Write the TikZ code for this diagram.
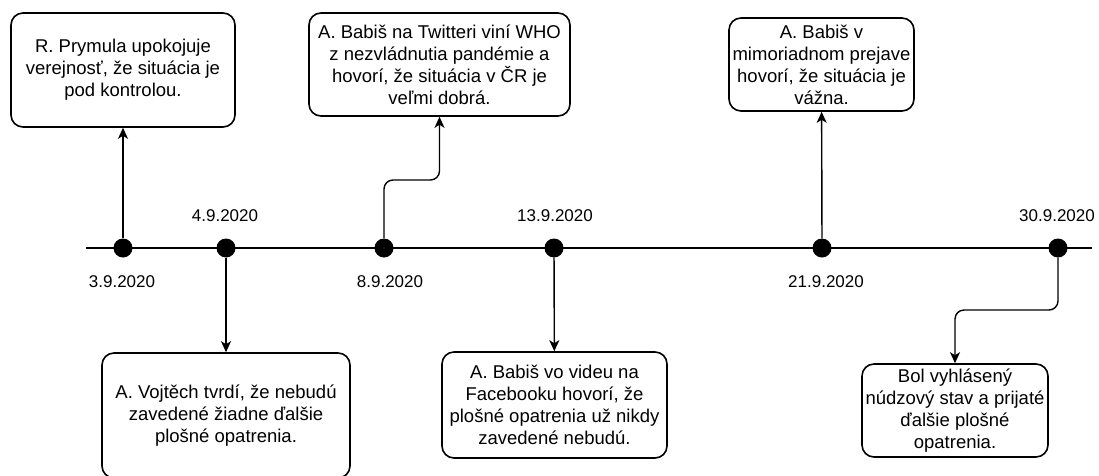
\documentclass[tikz,border=0pt]{standalone}
\usepackage{fontspec}
\setmainfont{Liberation Sans}
\usepackage{tikz}
\usetikzlibrary{arrows.meta, positioning}

\tikzset{
  event/.style={draw, line width=1.6pt, rounded corners=12pt, align=center,
    font=\fontsize{18.5}{22}\selectfont, inner sep=0pt},
  dot/.style={circle, fill=black, minimum size=19pt, inner sep=0pt},
  datum/.style={font=\fontsize{17}{20}\selectfont, inner sep=0pt},
  link/.style={line width=1.4pt, -{Stealth[length=11pt, width=10pt, inset=3pt]}},
}

\begin{document}
\begin{tikzpicture}[x=1pt, y=-1pt]
\useasboundingbox (0,0) rectangle (1099,475);

% timeline
\coordinate (tlA) at (86,248);
\coordinate (tlB) at (1092,248);
\draw[line width=1.6pt] (tlA) -- (tlB);

\node[dot] (d3) at (123,248) {};
\node[dot] (d4) at (226,248) {};
\node[dot] (d8) at (384,248) {};
\node[dot] (d13) at (554,248) {};
\node[dot] (d21) at (822,248) {};
\node[dot] (d30) at (1058,248) {};

% dates
\node[datum] (l3) at (122,282) {3.9.2020};
\node[datum] (l4) at (225,216) {4.9.2020};
\node[datum] (l8) at (390,282) {8.9.2020};
\node[datum] (l13) at (555,216) {13.9.2020};
\node[datum] (l21) at (826,282) {21.9.2020};
\node[datum] (l30) at (1057,216) {30.9.2020};

% events above
\node[event, minimum width=224pt, minimum height=114pt] (prymula) at (123,70)
  {R. Prymula upokojuje\\verejnosť, že situácia je\\pod kontrolou.};
\node[event, minimum width=261pt, minimum height=103pt] (twitter) at (439.5,64.5)
  {A. Babiš na Twitteri viní WHO\\z nezvládnutia pandémie a\\hovorí, že situácia v ČR je\\veľmi dobrá.};
\node[event, minimum width=185pt, minimum height=93pt] (prejav) at (821.5,64.5)
  {A. Babiš v\\mimoriadnom prejave\\hovorí, že situácia je\\vážna.};

% events below
\node[event, minimum width=248pt, minimum height=125pt] (vojtech) at (226,415.5)
  {A. Vojtěch tvrdí, že nebudú\\zavedené žiadne ďalšie\\plošné opatrenia.};
\node[event, minimum width=225pt, minimum height=106pt] (video) at (554.5,405)
  {A. Babiš vo videu na\\Facebooku hovorí, že\\plošné opatrenia už nikdy\\zavedené nebudú.};
\node[event, minimum width=186pt, minimum height=93pt] (stav) at (955,410.5)
  {Bol vyhlásený\\núdzový stav a prijaté\\ďalšie plošné\\opatrenia.};

% connectors
\draw[link] (d3) -- (prymula);
\draw[link, rounded corners=9pt] (d8) -- ++(0,-68) -| (twitter);
\draw[link] (d21) -- (prejav);
\draw[link] (d4) -- (vojtech);
\draw[link] (d13) -- (video);
\draw[link, rounded corners=9pt] (d30) -- ++(0,62) -| (stav);
\end{tikzpicture}
\end{document}
